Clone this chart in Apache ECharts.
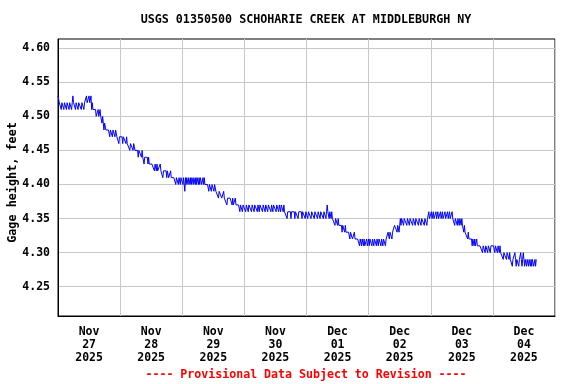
<!DOCTYPE html>
<html>
<head>
<meta charset="utf-8">
<script src="https://cdn.jsdelivr.net/npm/echarts@6/dist/echarts.min.js"></script>
<style>html,body{margin:0;padding:0;background:#fff}#c{width:576px;height:384px}</style>
</head>
<body>
<div id="c"></div>
<script>
// Category (day) labels along the x axis
const dayLabels = ['Nov\n27\n2025','Nov\n28\n2025','Nov\n29\n2025','Nov\n30\n2025','Dec\n01\n2025','Dec\n02\n2025','Dec\n03\n2025','Dec\n04\n2025'];
// y tick labels
const yTicks = [4.25, 4.30, 4.35, 4.40, 4.45, 4.50, 4.55, 4.60];

// 15-minute gage height readings (feet), one array per day
const nov27 = [4.53,4.53,4.52,4.52,4.52,4.51,4.52,4.52,4.52,4.51,
 4.52,4.52,4.52,4.51,4.52,4.52,4.52,4.51,4.52,4.52,
 4.52,4.51,4.52,4.53,4.52,4.52,4.52,4.51,4.52,4.52,
 4.52,4.51,4.52,4.52,4.52,4.52,4.51,4.52,4.52,4.52,
 4.51,4.52,4.52,4.52,4.53,4.52,4.52,4.52,4.53,4.52,
 4.52,4.53,4.51,4.52,4.51,4.51,4.51,4.51,4.51,4.50,
 4.50,4.50,4.51,4.50,4.50,4.51,4.50,4.50,4.49,4.50,
 4.49,4.48,4.49,4.49,4.48,4.48,4.48,4.48,4.48,4.48,
 4.47,4.48,4.48,4.48,4.47,4.48,4.48,4.48,4.47,4.48,
 4.48,4.47,4.47,4.47,4.46,4.47];
const nov28 = [4.47,4.47,4.47,4.47,4.46,4.47,4.47,4.47,4.47,4.46,
 4.47,4.46,4.46,4.46,4.46,4.45,4.46,4.46,4.46,4.46,
 4.45,4.46,4.46,4.45,4.45,4.45,4.45,4.45,4.44,4.45,
 4.45,4.45,4.45,4.44,4.45,4.44,4.44,4.43,4.44,4.44,
 4.44,4.44,4.44,4.43,4.44,4.43,4.43,4.43,4.43,4.43,
 4.43,4.43,4.43,4.42,4.43,4.43,4.42,4.43,4.42,4.42,
 4.42,4.42,4.43,4.42,4.42,4.42,4.41,4.42,4.42,4.42,
 4.42,4.42,4.41,4.42,4.42,4.41,4.41,4.41,4.42,4.41,
 4.41,4.41,4.41,4.41,4.41,4.41,4.40,4.41,4.41,4.41,
 4.40,4.41,4.41,4.40,4.41,4.41];
const nov29 = [4.41,4.40,4.41,4.41,4.39,4.41,4.40,4.41,4.41,4.40,
 4.41,4.41,4.40,4.41,4.40,4.41,4.41,4.40,4.41,4.41,
 4.40,4.41,4.40,4.41,4.41,4.40,4.41,4.40,4.41,4.41,
 4.40,4.40,4.41,4.40,4.41,4.40,4.40,4.40,4.40,4.40,
 4.40,4.39,4.40,4.40,4.40,4.39,4.40,4.40,4.40,4.39,
 4.40,4.40,4.39,4.39,4.39,4.39,4.38,4.39,4.39,4.39,
 4.39,4.38,4.38,4.38,4.39,4.38,4.38,4.38,4.38,4.37,
 4.38,4.38,4.38,4.38,4.38,4.38,4.38,4.37,4.38,4.37,
 4.37,4.37,4.38,4.37,4.37,4.37,4.37,4.37,4.37,4.36,
 4.37,4.37,4.37,4.36,4.37,4.37];
const nov30 = [4.37,4.37,4.36,4.37,4.37,4.37,4.36,4.37,4.37,4.37,
 4.37,4.36,4.37,4.37,4.37,4.36,4.37,4.37,4.37,4.37,
 4.36,4.37,4.37,4.36,4.37,4.37,4.37,4.37,4.36,4.37,
 4.37,4.37,4.36,4.37,4.37,4.37,4.36,4.37,4.37,4.37,
 4.37,4.36,4.37,4.37,4.36,4.37,4.37,4.37,4.37,4.36,
 4.37,4.37,4.37,4.36,4.37,4.37,4.36,4.37,4.37,4.37,
 4.36,4.37,4.36,4.36,4.36,4.36,4.35,4.36,4.36,4.36,
 4.36,4.36,4.35,4.36,4.36,4.36,4.36,4.36,4.35,4.36,
 4.36,4.36,4.36,4.35,4.36,4.36,4.36,4.36,4.36,4.35,
 4.36,4.36,4.36,4.36,4.35,4.36];
const dec01 = [4.36,4.36,4.35,4.36,4.36,4.36,4.36,4.35,4.36,4.36,
 4.36,4.36,4.35,4.36,4.36,4.36,4.36,4.35,4.36,4.36,
 4.36,4.35,4.36,4.36,4.36,4.36,4.35,4.36,4.36,4.36,
 4.35,4.36,4.37,4.36,4.36,4.35,4.36,4.36,4.35,4.36,
 4.35,4.35,4.35,4.35,4.34,4.35,4.35,4.35,4.34,4.35,
 4.34,4.34,4.34,4.34,4.34,4.33,4.34,4.34,4.34,4.33,
 4.34,4.33,4.33,4.33,4.33,4.33,4.33,4.32,4.33,4.33,
 4.33,4.32,4.32,4.32,4.33,4.32,4.32,4.32,4.32,4.32,
 4.32,4.32,4.31,4.32,4.32,4.31,4.32,4.32,4.31,4.32,
 4.31,4.31,4.31,4.32,4.31,4.31];
const dec02 = [4.32,4.31,4.32,4.32,4.32,4.31,4.32,4.32,4.31,4.32,
 4.32,4.32,4.31,4.32,4.32,4.31,4.32,4.32,4.32,4.31,
 4.32,4.32,4.31,4.32,4.32,4.32,4.31,4.32,4.32,4.32,
 4.33,4.33,4.32,4.33,4.33,4.33,4.32,4.33,4.33,4.33,
 4.34,4.34,4.34,4.34,4.33,4.34,4.34,4.33,4.34,4.35,
 4.34,4.35,4.35,4.35,4.34,4.35,4.35,4.35,4.35,4.34,
 4.35,4.35,4.35,4.34,4.35,4.35,4.35,4.35,4.34,4.35,
 4.35,4.35,4.34,4.35,4.35,4.35,4.35,4.34,4.35,4.35,
 4.35,4.34,4.35,4.35,4.35,4.35,4.34,4.35,4.35,4.35,
 4.34,4.35,4.35,4.36,4.35,4.35];
const dec03 = [4.35,4.36,4.35,4.35,4.36,4.35,4.35,4.35,4.36,4.35,
 4.35,4.36,4.35,4.35,4.35,4.36,4.35,4.35,4.36,4.35,
 4.35,4.35,4.36,4.35,4.35,4.35,4.36,4.35,4.35,4.36,
 4.35,4.35,4.35,4.36,4.35,4.35,4.35,4.34,4.35,4.35,
 4.35,4.34,4.35,4.35,4.34,4.35,4.35,4.34,4.35,4.34,
 4.34,4.33,4.34,4.33,4.33,4.33,4.33,4.32,4.33,4.32,
 4.32,4.32,4.32,4.32,4.31,4.32,4.32,4.31,4.32,4.31,
 4.31,4.32,4.31,4.31,4.31,4.31,4.31,4.31,4.31,4.31,
 4.30,4.31,4.31,4.31,4.30,4.31,4.31,4.31,4.30,4.31,
 4.31,4.31,4.30,4.31,4.31,4.31];
const dec04 = [4.31,4.31,4.31,4.30,4.31,4.31,4.31,4.30,4.31,4.31,
 4.30,4.31,4.30,4.30,4.30,4.30,4.29,4.30,4.30,4.30,
 4.30,4.29,4.30,4.30,4.30,4.29,4.30,4.29,4.29,4.29,
 4.28,4.29,4.29,4.29,4.30,4.29,4.28,4.29,4.29,4.29,
 4.28,4.29,4.29,4.30,4.29,4.28,4.29,4.30,4.29,4.28,
 4.29,4.29,4.28,4.29,4.29,4.28,4.29,4.29,4.28,4.29,
 4.28,4.29,4.29,4.28,4.28,4.29,4.28,4.29];

const days = [nov27, nov28, nov29, nov30, dec01, dec02, dec03, dec04];
const startTime = new Date(2025, 10, 27, 0, 0, 0).getTime();
const endTime = new Date(2025, 11, 5, 0, 0, 0).getTime();
const STEP = 15 * 60 * 1000;

const seriesData = [];
days.forEach((arr, d) => {
  arr.forEach((v, i) => {
    seriesData.push([startTime + (d * 96 + i) * STEP, v]);
  });
});

const FONT = 'DejaVu Sans Mono';
const chart = echarts.init(document.getElementById('c'), null, {renderer: 'canvas'});
chart.setOption({
  animation: false,
  backgroundColor: '#fff',
  grid: {left: 58, top: 39, width: 497, height: 277, outerBoundsMode: 'none', containLabel: false,
         show: true, borderColor: '#000', borderWidth: 1, backgroundColor: 'transparent'},
  xAxis: [{
    type: 'category',
    data: dayLabels,
    boundaryGap: true,
    axisLine: {show: true, lineStyle: {color: '#000', width: 1}},
    axisTick: {show: false},
    splitLine: {show: true, lineStyle: {color: '#c8c8c8', width: 1}},
    axisLabel: {color: '#000', fontFamily: FONT, fontWeight: 'bold', fontSize: 11.5, lineHeight: 13, margin: 10, interval: 0}
  }, {
    type: 'time',
    min: startTime,
    max: endTime,
    show: false,
    splitLine: {show: false}
  }],
  yAxis: {
    type: 'value',
    min: 4.207,
    max: 4.6135,
    name: 'Gage height, feet',
    nameLocation: 'middle',
    nameGap: 39,
    nameMoveOverlap: false,
    nameRotate: 90,
    nameTextStyle: {color: '#000', fontFamily: FONT, fontWeight: 'bold', fontSize: 11.8, padding: [0, 10, 0, 0]},
    axisLine: {show: true, lineStyle: {color: '#000', width: 1}},
    axisTick: {show: false, customValues: yTicks},
    splitLine: {show: true, lineStyle: {color: '#c8c8c8', width: 1}},
    axisLabel: {customValues: yTicks, formatter: v => v.toFixed(2), color: '#000', fontFamily: FONT, fontWeight: 'bold', fontSize: 11.5, margin: 8}
  },
  series: [{
    type: 'line',
    xAxisIndex: 1,
    data: seriesData,
    showSymbol: false,
    symbol: 'none',
    sampling: null,
    lineStyle: {color: '#0000ff', width: 1},
    itemStyle: {color: '#0000ff'},
    clip: true
  }],
  graphic: [{
    type: 'text',
    x: 306,
    y: 20,
    style: {text: 'USGS 01350500 SCHOHARIE CREEK AT MIDDLEBURGH NY', font: 'bold 11.7px "DejaVu Sans Mono"', fill: '#000', textAlign: 'center', textVerticalAlign: 'middle'}
  }, {
    type: 'text',
    x: 306,
    y: 375,
    style: {text: '---- Provisional Data Subject to Revision ----', font: 'bold 11.6px "DejaVu Sans Mono"', fill: '#ff0000', textAlign: 'center', textVerticalAlign: 'middle'}
  }]
});
</script>
</body>
</html>
